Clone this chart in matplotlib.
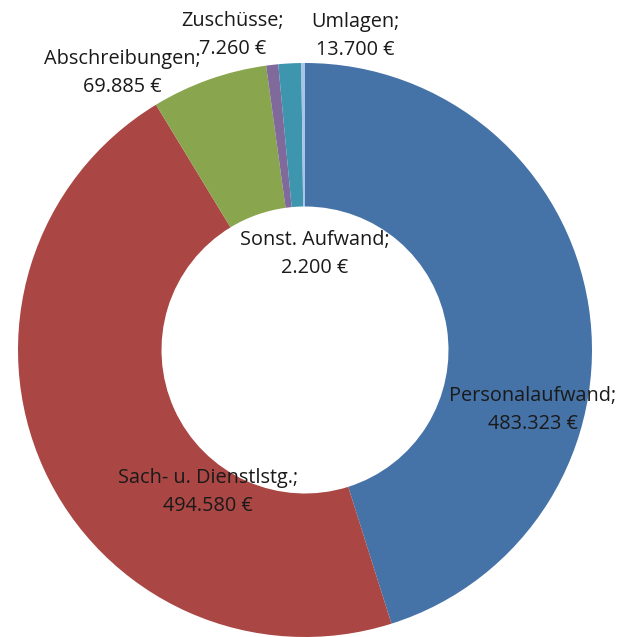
import matplotlib.pyplot as plt

# data
labels = ['Personalaufwand', 'Sach- u. Dienstlstg.', 'Abschreibungen',
          'Zuschüsse', 'Umlagen', 'Sonst. Aufwand']
values = [483323, 494580, 69885, 7260, 13700, 2200]
colors = ['#4572A7', '#AA4643', '#89A54E', '#80699B', '#3D96AE', '#A8C4E6']

# label placement (pixel coords from top-left, manually placed like in the source)
label_pos = [(533, 410), (208, 492), (122, 73), (233, 35), (355, 36), (315, 254)]

W, H = 630, 637


def fmt_eur(v):
    return f'{v:,}'.replace(',', '.') + ' €'


fig = plt.figure(figsize=(6.3, 6.37), dpi=100)
ax = fig.add_axes([0, 0, 1, 1])

R = 287
ax.pie(values, colors=colors, startangle=90, counterclock=False,
       center=(305, H - 350), radius=R, frame=True,
       wedgeprops=dict(width=R * 0.5, linewidth=0))
ax.set_xlim(0, W)
ax.set_ylim(0, H)
ax.set_aspect('equal')
ax.axis('off')

for lab, v, (x, y) in zip(labels, values, label_pos):
    ax.text(x, H - y, f'{lab};\n{fmt_eur(v)}', ha='center', va='center',
            fontsize=14.3, family='Open Sans', color='#1a1a1a', linespacing=1.5)

fig.savefig('out.png', dpi=100)
